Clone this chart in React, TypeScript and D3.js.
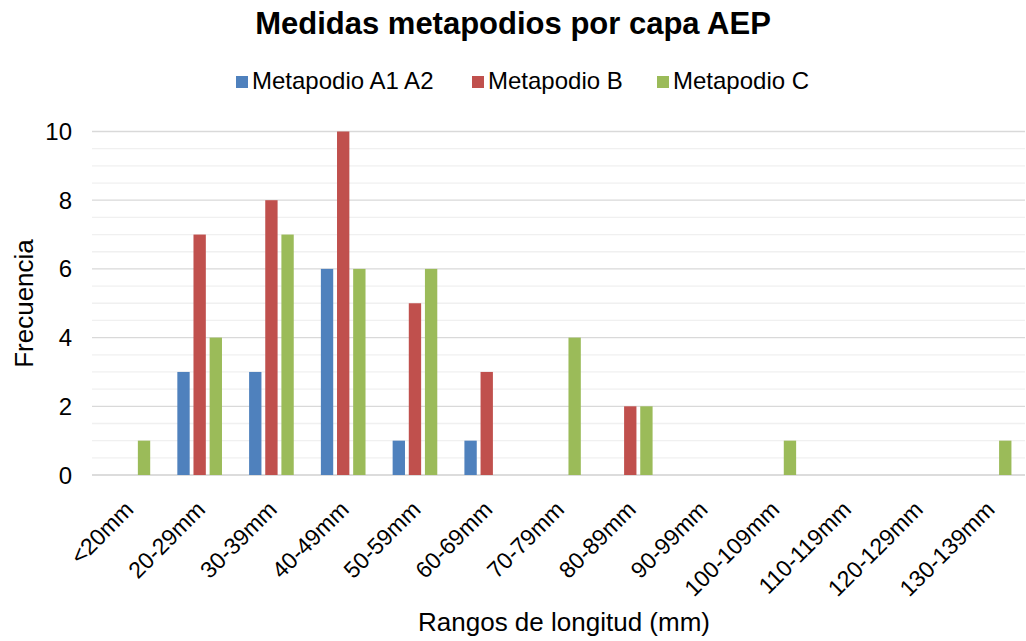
import React from "react";
import * as d3 from "d3";

const categories = ["<20mm","20-29mm","30-39mm","40-49mm","50-59mm","60-69mm","70-79mm","80-89mm","90-99mm","100-109mm","110-119mm","120-129mm","130-139mm"];
const seriesNames = ["Metapodio A1 A2","Metapodio B","Metapodio C"];
const seriesA = [0,3,3,6,1,1,0,0,0,0,0,0,0];
const seriesB = [0,7,8,10,5,3,0,2,0,0,0,0,0];
const seriesC = [1,4,7,6,6,0,4,2,0,1,0,0,1];
const colors = ["#4F81BD","#C0504D","#9BBB59"];
const yTicks = [0,2,4,6,8,10];

export default function App() {
  const W = 1026, H = 641;
  const left = 92, right = 1025, top = 131.5, bottom = 475;
  const x = d3.scaleBand<string>().domain(categories).range([left, right]);
  const y = d3.scaleLinear().domain([0, 10]).range([bottom, top]);
  const bw = x.bandwidth();
  const barW = bw * 0.172;
  const step = bw * 0.225;
  const all = [seriesA, seriesB, seriesC];
  const minor = d3.range(0.5, 10.01, 0.5).filter(v => v % 2 !== 0);
  const font = "Arial, 'Liberation Sans', sans-serif";
  const legendX = [236, 472, 657];
  return (
    <svg width={W} height={H} style={{ position: "absolute", left: 0, top: 0, background: "#fff" }} fontFamily={font}>
      <rect width={W} height={H} fill="#fff" />
      <text x={513} y={34} textAnchor="middle" fontSize={31} fontWeight="bold" fill="#000">Medidas metapodios por capa AEP</text>
      {seriesNames.map((n, i) => (
        <g key={n}>
          <rect x={legendX[i]} y={76} width={12} height={12} fill={colors[i]} />
          <text x={legendX[i] + 16} y={89} fontSize={24} fill="#000">{n}</text>
        </g>
      ))}
      {minor.map(v => (
        <line key={"m" + v} x1={left} x2={right} y1={y(v)} y2={y(v)} stroke="#F0F0F0" strokeWidth={1.3} />
      ))}
      {yTicks.map(v => (
        <g key={"t" + v}>
          <line x1={left} x2={right} y1={y(v)} y2={y(v)} stroke={v === 0 ? "#D0D0D0" : "#D9D9D9"} strokeWidth={v === 0 ? 1.5 : 1.3} />
          <text x={72} y={y(v) + 8.5} textAnchor="end" fontSize={24} fill="#000">{v}</text>
        </g>
      ))}
      {all.map((s, si) => s.map((v, ci) => v > 0 ? (
        <rect key={si + "-" + ci}
          x={(x(categories[ci]) as number) + bw / 2 + (si - 1) * step - barW / 2}
          y={y(v)} width={barW} height={y(0) - y(v)} fill={colors[si]} />
      ) : null))}
      {categories.map(c => {
        const cx = (x(c) as number) + bw / 2 + 7;
        return (
          <text key={c} transform={`translate(${cx},${511}) rotate(-45)`} textAnchor="end" fontSize={23} fill="#000">{c}</text>
        );
      })}
      <text transform={`translate(33,${303.5}) rotate(-90)`} textAnchor="middle" fontSize={26} fill="#000">Frecuencia</text>
      <text x={564} y={631} textAnchor="middle" fontSize={26} fill="#000">Rangos de longitud (mm)</text>
    </svg>
  );
}
